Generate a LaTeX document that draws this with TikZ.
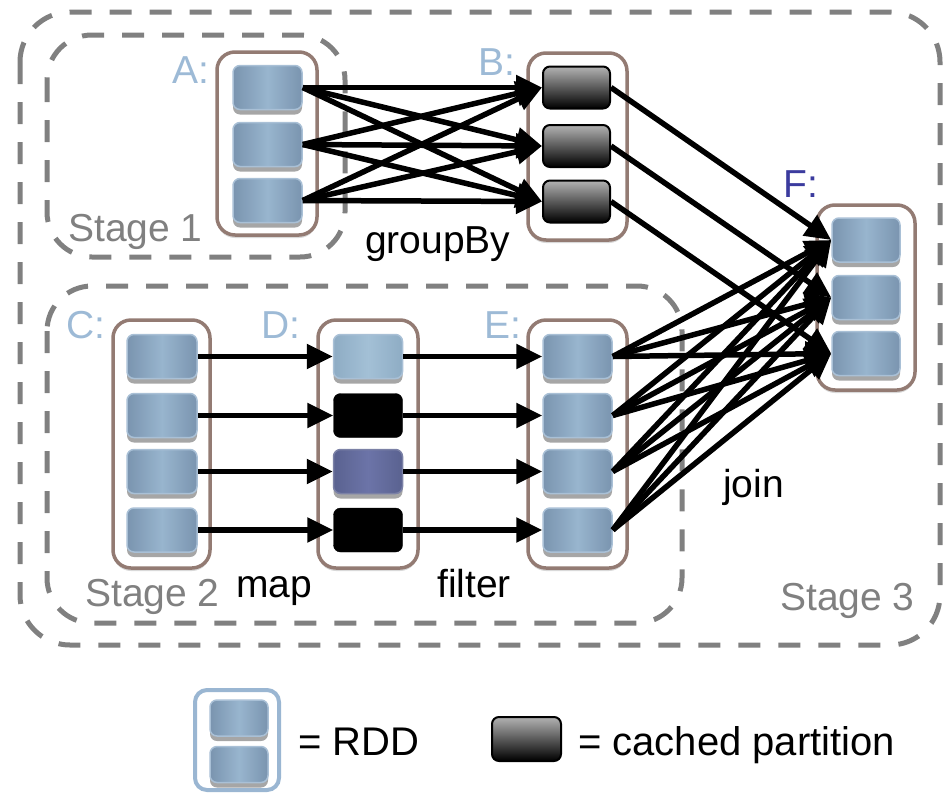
\documentclass[tikz,border=0pt]{standalone}
\usepackage{fontspec}
\setmainfont{Liberation Sans}
\usetikzlibrary{arrows.meta,shadows}
\definecolor{pbd}{HTML}{7A94AF}
\definecolor{pbl}{HTML}{98B5CE}
\definecolor{pborder}{HTML}{A9C0D6}
\definecolor{cont}{HTML}{937B73}
\definecolor{dashgray}{HTML}{808080}
\definecolor{lblue}{HTML}{9DBAD6}
\definecolor{fblue}{HTML}{3B3B9E}
\definecolor{legblue}{HTML}{9AB6D2}
\definecolor{pud}{HTML}{5A6290}
\definecolor{pul}{HTML}{6C74A8}
\definecolor{dlb}{HTML}{8EACC4}
\definecolor{dll}{HTML}{A3C0D6}
\begin{document}
\begin{tikzpicture}[x=1pt,y=-1pt,
  part/.style={rectangle, rounded corners=7pt, inner sep=0pt, draw=pborder, line width=1.5pt,
    left color=pbd, right color=pbd, middle color=pbl,
    minimum width=69pt, minimum height=44pt,
    drop shadow={shadow xshift=0pt, shadow yshift=-5pt, opacity=0.35, fill=black}},
  lightpart/.style={part, left color=dlb, right color=dlb, middle color=dll},
  purplepart/.style={part, draw=pud!80, left color=pud, right color=pud, middle color=pul},
  blackpart/.style={rectangle, rounded corners=7pt, inner sep=0pt, draw=black, fill=black,
    minimum width=69pt, minimum height=44pt},
  cached/.style={rectangle, rounded corners=7pt, inner sep=0pt, draw=black, line width=2pt,
    top color=black!30, bottom color=black, minimum width=67pt, minimum height=42pt},
  container/.style={rectangle, rounded corners=18pt, draw=cont, line width=3.5pt, fill=white,
    inner sep=0pt, drop shadow={shadow xshift=0pt, shadow yshift=-3pt, opacity=0.15, fill=black}},
  stagebox/.style={draw=dashgray, line width=5pt, dash pattern=on 22pt off 18pt},
  conn/.style={line width=5.5pt, -{Triangle[length=26pt,width=24pt]}},
  lab/.style={font=\fontsize{39}{40}\selectfont, anchor=base west, inner sep=0pt},
  leg/.style={font=\fontsize{40}{42}\selectfont, anchor=base west, inner sep=0pt}
]
\useasboundingbox (0,0) rectangle (945,793);

% stage boxes
\draw[stagebox, rounded corners=50pt] (20,12) rectangle (940,645);
\draw[stagebox, rounded corners=45pt] (47,35) rectangle (345,257);
\draw[stagebox, rounded corners=45pt] (47,286) rectangle (682,623);

% containers
\node[container, minimum width=100pt, minimum height=183pt] (ra) at (267,143.5) {};
\node[container, minimum width=99pt, minimum height=187pt] (rb) at (577.5,146.5) {};
\node[container, minimum width=98pt, minimum height=185pt] (rf) at (866,297.5) {};
\node[container, minimum width=97pt, minimum height=248pt] (rc) at (161.5,444) {};
\node[container, minimum width=100pt, minimum height=248pt] (rd) at (368,444) {};
\node[container, minimum width=99pt, minimum height=248pt] (re) at (577.5,444) {};

% partitions
\node[part] (a1) at (267.5,87.5) {};
\node[part] (a2) at (267.5,144.5) {};
\node[part] (a3) at (267.5,200.5) {};
\node[cached] (b1) at (576.5,87.5) {};
\node[cached] (b2) at (576.5,146) {};
\node[cached] (b3) at (576.5,201.5) {};
\node[part, minimum width=68pt] (f1) at (866,240) {};
\node[part, minimum width=68pt] (f2) at (866,297.5) {};
\node[part, minimum width=68pt] (f3) at (866,353.5) {};
\foreach \i/\y in {1/356.5,2/415.5,3/471.5,4/530}{
  \node[part, minimum width=70pt] (c\i) at (162,\y) {};
  \node[part] (e\i) at (577.5,\y) {};
}
\node[lightpart] (d1) at (368,356.5) {};
\node[blackpart] (d2) at (368,415.5) {};
\node[purplepart] (d3) at (368,471.5) {};
\node[blackpart] (d4) at (368,530) {};

% connectors
\foreach \i in {1,2,3}{\foreach \j in {1,2,3}{\draw[conn] (a\i.east) -- (b\j.west);}}
\foreach \i in {1,2,3}{\draw[conn] (b\i.east) -- (f\i.west);}
\foreach \i in {1,2,3,4}{
  \draw[conn] (c\i.east) -- (d\i.west);
  \draw[conn] (d\i.east) -- (e\i.west);
  \foreach \j in {1,2,3}{\draw[conn] (e\i.east) -- (f\j.west);}
}

% labels
\node[lab, text=lblue] (la) at (172,83) {A:};
\node[lab, text=lblue] (lb) at (478,75) {B:};
\node[lab, text=fblue] (lf) at (783,197) {F:};
\node[lab, text=lblue] (lc) at (66,338) {C:};
\node[lab, text=lblue] (ld) at (261,338) {D:};
\node[lab, text=lblue] (le) at (484,338) {E:};
\node[lab, text=dashgray] (s1) at (68,241) {Stage 1};
\node[lab, text=dashgray] (s2) at (85,606) {Stage 2};
\node[lab, text=dashgray] (s3) at (780,610) {Stage 3};
\node[lab] (gb) at (365,253) {groupBy};
\node[lab] (mp) at (236,597) {map};
\node[lab] (fl) at (437,597) {filter};
\node[lab] (jn) at (723,497) {join};

% legend
\node[rectangle, rounded corners=12pt, draw=legblue, line width=4pt, fill=white, inner sep=0pt,
  minimum width=84pt, minimum height=100pt] (legr) at (237,740) {};
\node[part, minimum width=58pt, minimum height=36pt] (lp1) at (239,718) {};
\node[part, minimum width=58pt, minimum height=36pt] (lp2) at (239,764.5) {};
\node[leg] (lt1) at (298,755) {= RDD};
\node[cached, minimum width=69pt, minimum height=44pt] (lc1) at (526.5,739) {};
\node[leg] (lt2) at (578,755) {= cached partition};
\end{tikzpicture}
\end{document}
